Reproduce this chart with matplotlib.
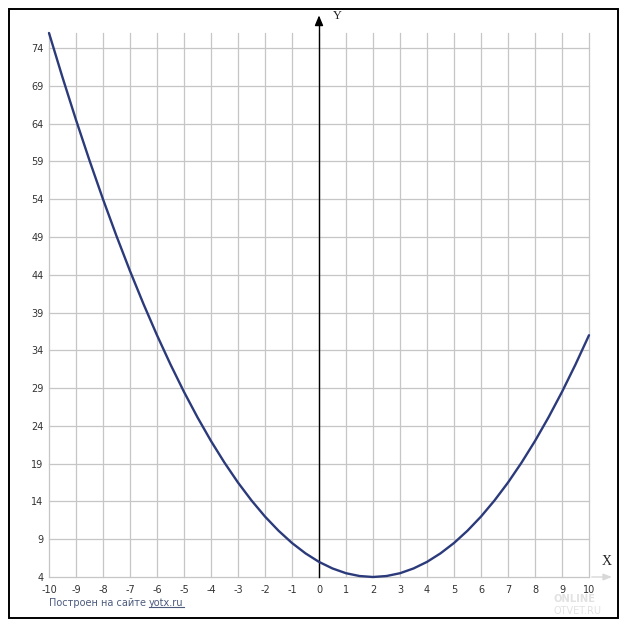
import matplotlib
matplotlib.use("Agg")
import matplotlib.pyplot as plt
from matplotlib.patches import Rectangle
from matplotlib.lines import Line2D

# Data
x_vals = [-10, -9.5, -9, -8.5, -8, -7.5, -7, -6.5, -6, -5.5, -5, -4.5, -4, -3.5,
          -3, -2.5, -2, -1.5, -1, -0.5, 0, 0.5, 1, 1.5, 2, 2.5, 3, 3.5, 4, 4.5,
          5, 5.5, 6, 6.5, 7, 7.5, 8, 8.5, 9, 9.5, 10]
y_vals = [76, 70.13, 64.5, 59.13, 54, 49.13, 44.5, 40.13, 36, 32.13, 28.5, 25.13,
          22, 19.13, 16.5, 14.13, 12, 10.13, 8.5, 7.13, 6, 5.13, 4.5, 4.13, 4,
          4.13, 4.5, 5.13, 6, 7.13, 8.5, 10.13, 12, 14.13, 16.5, 19.13, 22, 25.13,
          28.5, 32.13, 36]
x_ticks = list(range(-10, 11))
y_ticks = [4, 9, 14, 19, 24, 29, 34, 39, 44, 49, 54, 59, 64, 69, 74]

W, H = 627, 630
fig = plt.figure(figsize=(W / 100, H / 100), dpi=100)
fig.patch.set_facecolor("white")

# outer frame
fig.patches.append(Rectangle((9 / W, 1 - 618 / H), 609 / W, 609 / H,
                             transform=fig.transFigure, fill=False,
                             edgecolor="black", linewidth=1.4))

ax = fig.add_axes([49 / W, 1 - 577 / H, 540 / W, 544 / H])
ax.set_xlim(-10, 10)
ax.set_ylim(4, 76)
for s in ax.spines.values():
    s.set_visible(False)

grid_c = "#c6c6c6"
for xv in x_ticks:
    ax.plot([xv, xv], [4, 76], color=grid_c, lw=0.9, zorder=1, clip_on=False)
for yv in y_ticks:
    ax.plot([-10, 10], [yv, yv], color=grid_c, lw=0.9, zorder=1, clip_on=False)

ax.set_xticks(x_ticks)
ax.set_yticks(y_ticks)
ax.set_xticklabels([str(v) for v in x_ticks])
ax.set_yticklabels([str(v) for v in y_ticks])
ax.tick_params(length=0, labelsize=7, labelcolor="#333333")
ax.tick_params(axis="x", pad=6)
ax.tick_params(axis="y", pad=4)

# Y axis with arrow
ax.plot([0, 0], [4, 77.2], color="black", lw=1.0, zorder=3, clip_on=False)
ax.annotate("", xy=(0, 78.7), xytext=(0, 76.8),
            arrowprops=dict(arrowstyle="-|>,head_length=0.6,head_width=0.25",
                            color="black", lw=1.0),
            annotation_clip=False, zorder=4)
ax.text(0.5, 78.3, "Y", fontsize=9, family="Liberation Serif", ha="left",
        va="center", color="#222222", clip_on=False)
ax.text(10.67, 6.1, "X", fontsize=10, family="Liberation Serif", ha="center",
        va="center", color="#222222", clip_on=False)
# faint x arrow (under watermark)
ax.annotate("", xy=(10.95, 4), xytext=(10.0, 4),
            arrowprops=dict(arrowstyle="-|>,head_length=0.5,head_width=0.2",
                            color="#d8d8d8", lw=1.0),
            annotation_clip=False, zorder=0)

# curve
ax.plot(x_vals, y_vals, color="#2b3a7a", lw=1.7, zorder=5, clip_on=False,
        solid_capstyle="round", solid_joinstyle="round")

# watermark (faint), kept below the tick labels
fig.text(553 / W, 1 - 599 / H, "ONLINE", fontsize=8, color="#e2e2e2",
         ha="left", va="center", family="DejaVu Sans", fontweight="bold",
         fontstretch="condensed", zorder=0)
fig.text(553 / W, 1 - 611 / H, "OTVET.RU", fontsize=7, color="#e2e2e2",
         ha="left", va="center", family="DejaVu Sans", zorder=0)

# credit text
tc = "#4b5a7d"
fs = 7
t1 = fig.text(49 / W, 1 - 603 / H, "Построен на сайте ", fontsize=fs,
              color=tc, ha="left", va="center", family="DejaVu Sans")
fig.canvas.draw()
r = fig.canvas.get_renderer()
bb = t1.get_window_extent(r)
t2 = fig.text(bb.x1 / W, 1 - 603 / H, "yotx.ru", fontsize=fs, color=tc,
              ha="left", va="center", family="DejaVu Sans")
bb2 = t2.get_window_extent(r)
yline = (bb2.y0 + 1.0) / H
fig.add_artist(Line2D([bb2.x0 / W, bb2.x1 / W], [yline, yline],
                      transform=fig.transFigure, color=tc, lw=0.8))

fig.savefig("out.png", dpi=100, facecolor="white")
